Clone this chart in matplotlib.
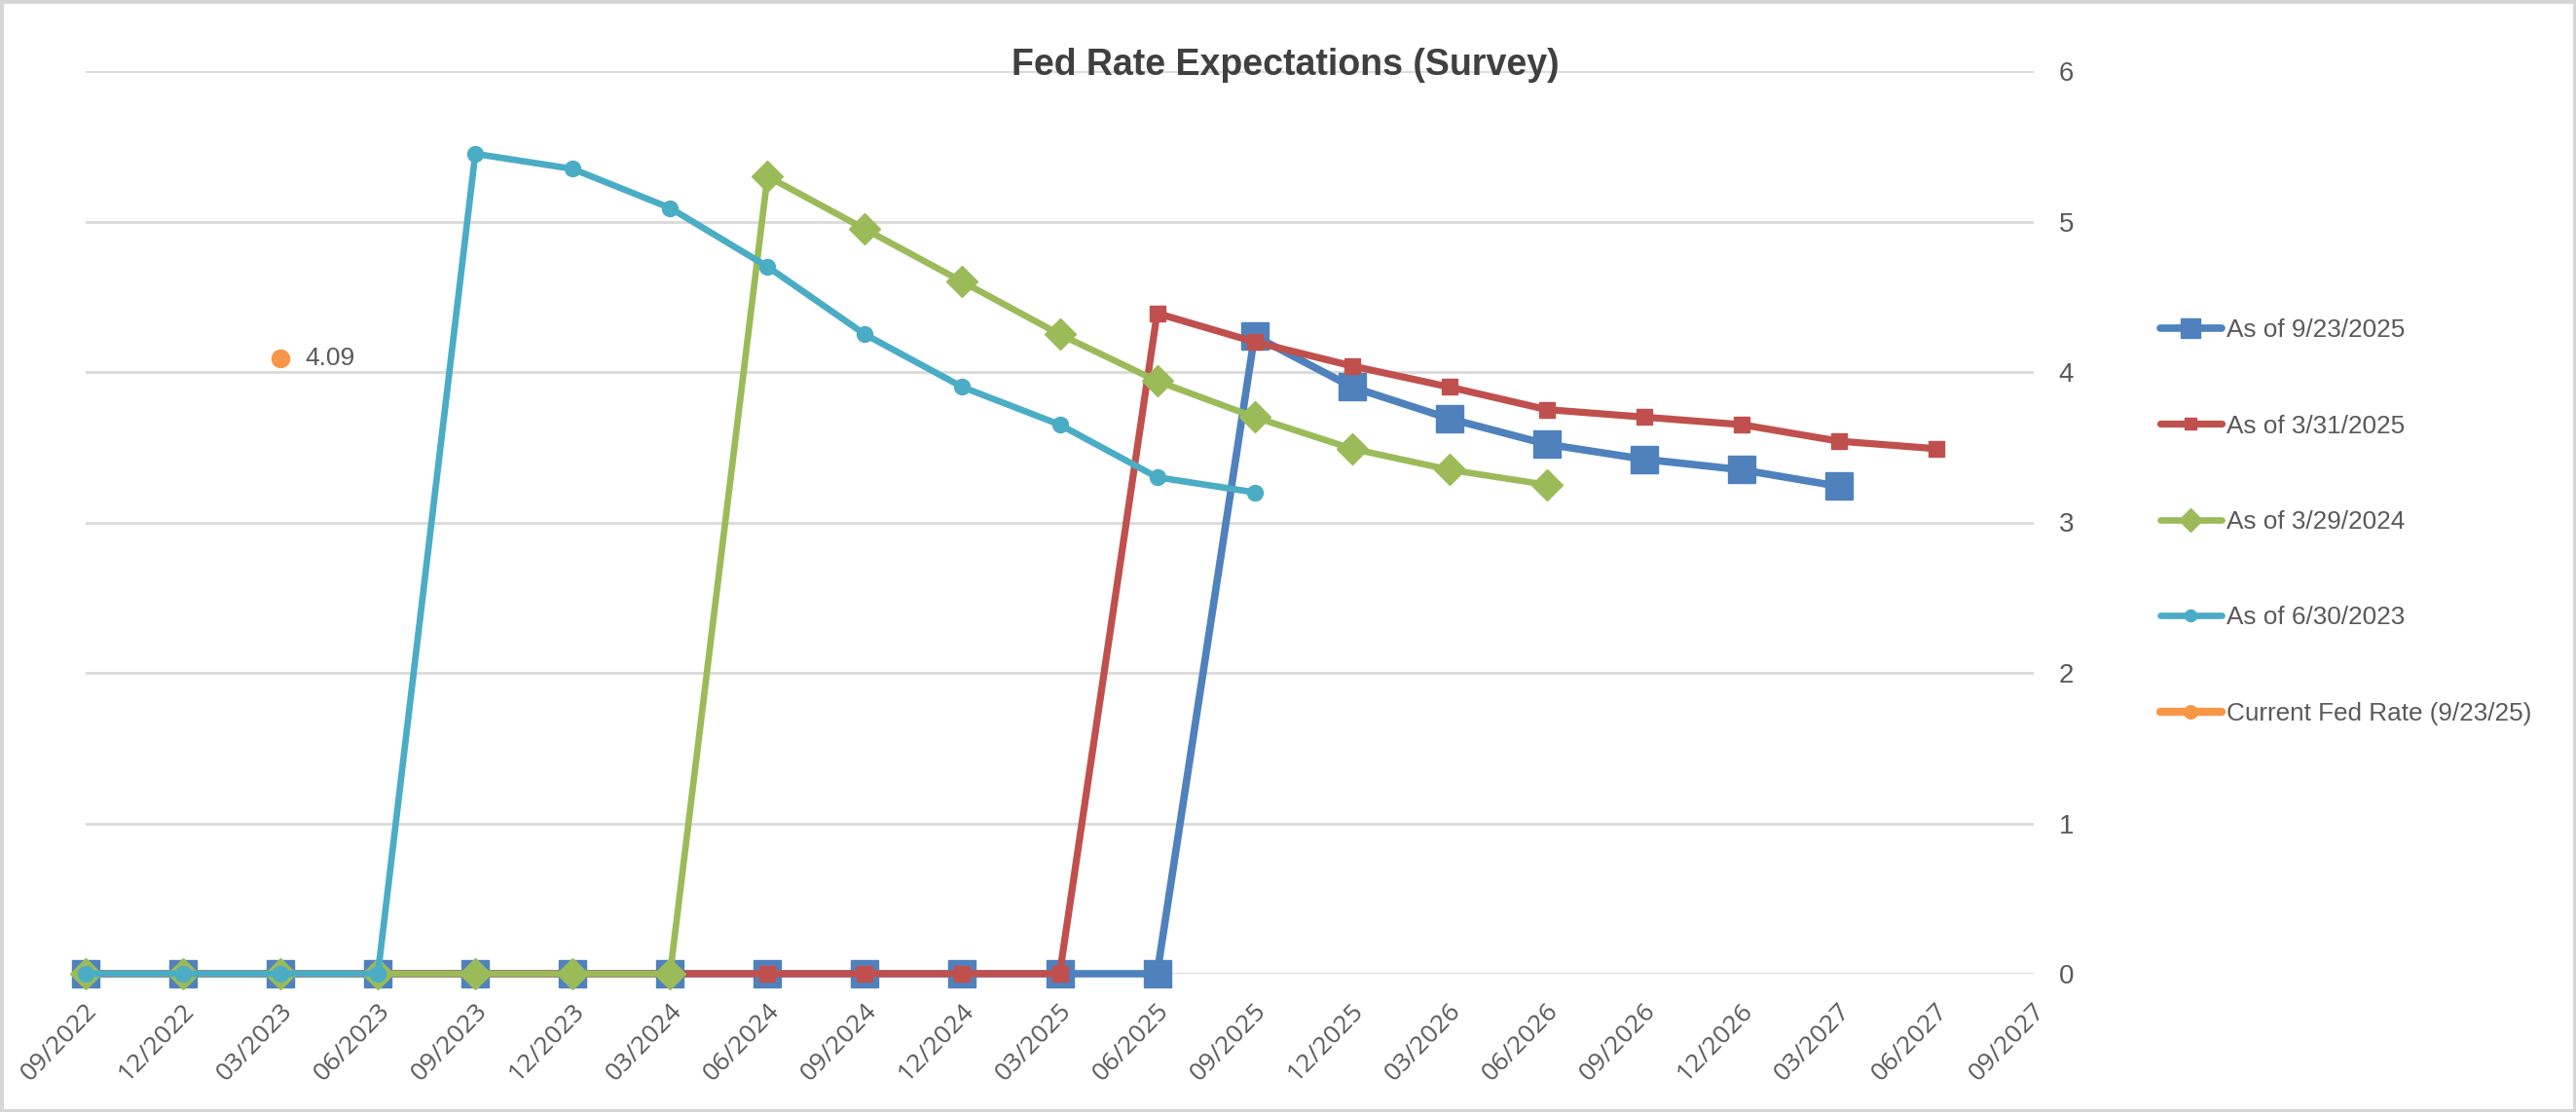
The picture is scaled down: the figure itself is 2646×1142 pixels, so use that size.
import numpy as np
import matplotlib
matplotlib.use("Agg")
import matplotlib.pyplot as plt
import matplotlib.transforms as mtrans
from matplotlib import font_manager
from matplotlib.patches import Rectangle

# fonts: Arial-like one for most text, fallback DejaVu
names = {f.name for f in font_manager.fontManager.ttflist}
sans = 'Liberation Sans' if 'Liberation Sans' in names else 'DejaVu Sans'
wide = 'Open Sans' if 'Open Sans' in names else 'DejaVu Sans'

# quarterly categories
quarters = ['09/2022', '12/2022', '03/2023', '06/2023', '09/2023', '12/2023',
            '03/2024', '06/2024', '09/2024', '12/2024', '03/2025', '06/2025',
            '09/2025', '12/2025', '03/2026', '06/2026', '09/2026', '12/2026',
            '03/2027', '06/2027', '09/2027']

nan = np.nan
asof_2025_09 = [0, 0, 0, 0, 0, 0, 0, 0, 0, 0, 0, 0,
                4.24, 3.90, 3.69, 3.52, 3.42, 3.35, 3.24, nan, nan]
asof_2025_03 = [0, 0, 0, 0, 0, 0, 0, 0, 0, 0, 0,
                4.39, 4.20, 4.04, 3.90, 3.75, 3.70, 3.65, 3.54, 3.49, nan]
asof_2024_03 = [0, 0, 0, 0, 0, 0, 0,
                5.30, 4.95, 4.60, 4.25, 3.94, 3.70, 3.49, 3.35, 3.25,
                nan, nan, nan, nan, nan]
asof_2023_06 = [0, 0, 0, 0,
                5.45, 5.35, 5.09, 4.70, 4.25, 3.90, 3.65, 3.30, 3.20,
                nan, nan, nan, nan, nan, nan, nan, nan]
current_rate = [nan, nan, 4.09] + [nan] * 18

series = [
    ('As of 9/23/2025', asof_2025_09, '#4F81BD', 's', 19.5, 5.5),
    ('As of 3/31/2025', asof_2025_03, '#C0504D', 's', 11, 5.2),
    ('As of 3/29/2024', asof_2024_03, '#9BBB59', 'D', 16.5, 4.8),
    ('As of 6/30/2023', asof_2023_06, '#4BACC6', 'o', 11.5, 4.8),
    ('Current Fed Rate (9/23/25)', current_rate, '#F79646', 'o', 13, 6),
]

textgrey = '#595959'

fig = plt.figure(figsize=(26.46, 11.42), dpi=100)
ax = fig.add_axes([88 / 2646, 1 - 1000 / 1142, (2089 - 88) / 2646, (1000 - 73) / 1142])

x = np.arange(len(quarters))
for label, vals, col, mk, ms, lw in series:
    ax.plot(x, vals, color=col, marker=mk, markersize=ms, lw=lw, label=label,
            clip_on=False, solid_joinstyle='round', solid_capstyle='round')

# data label for current rate
ax.annotate('4.09', xy=(x[2], current_rate[2]), xytext=(18, 0), textcoords='offset points',
            ha='left', va='center', fontsize=19, color=textgrey, family=sans)

ax.set_xlim(0, len(quarters) - 1)
ax.set_ylim(0, 6)
ax.set_yticks(range(7))
ax.yaxis.tick_right()
ax.grid(axis='y', color='#d9d9d9', lw=2)
ax.set_axisbelow(True)
for s in ax.spines.values():
    s.set_visible(False)

ax.set_xticks(x)
ax.set_xticklabels(quarters, rotation=46, ha='right', va='center', rotation_mode='anchor',
                   fontsize=19, color=textgrey, family=wide)
ax.tick_params(axis='x', length=0, pad=25)
ax.tick_params(axis='y', length=0, pad=18.5, labelsize=20, labelcolor=textgrey)
for t in ax.get_yticklabels():
    t.set_family(sans)
shift = mtrans.ScaledTranslation(8 / 100, 0, fig.dpi_scale_trans)
for t in ax.get_xticklabels():
    t.set_transform(t.get_transform() + shift)

fig.text(1320 / 2646, 1 - 77 / 1142, 'Fed Rate Expectations (Survey)', ha='center', va='baseline',
         fontsize=27, fontweight='bold', color='#404040', family=sans)

leg = fig.legend(loc='center left', bbox_to_anchor=(2219 / 2646, 1 - 536 / 1142), frameon=False,
                 handlelength=2.4, handletextpad=0.2, labelspacing=2.85, borderpad=0,
                 borderaxespad=0, markerscale=0.75, prop={'family': sans, 'size': 18.8})
for t in leg.get_texts():
    t.set_color(textgrey)

# light grey frame round the whole picture
fig.patches.append(Rectangle((0, 0), 1, 1, transform=fig.transFigure, fill=False,
                             edgecolor='#d6d6d6', lw=5))

fig.savefig('out.png', dpi=100)
